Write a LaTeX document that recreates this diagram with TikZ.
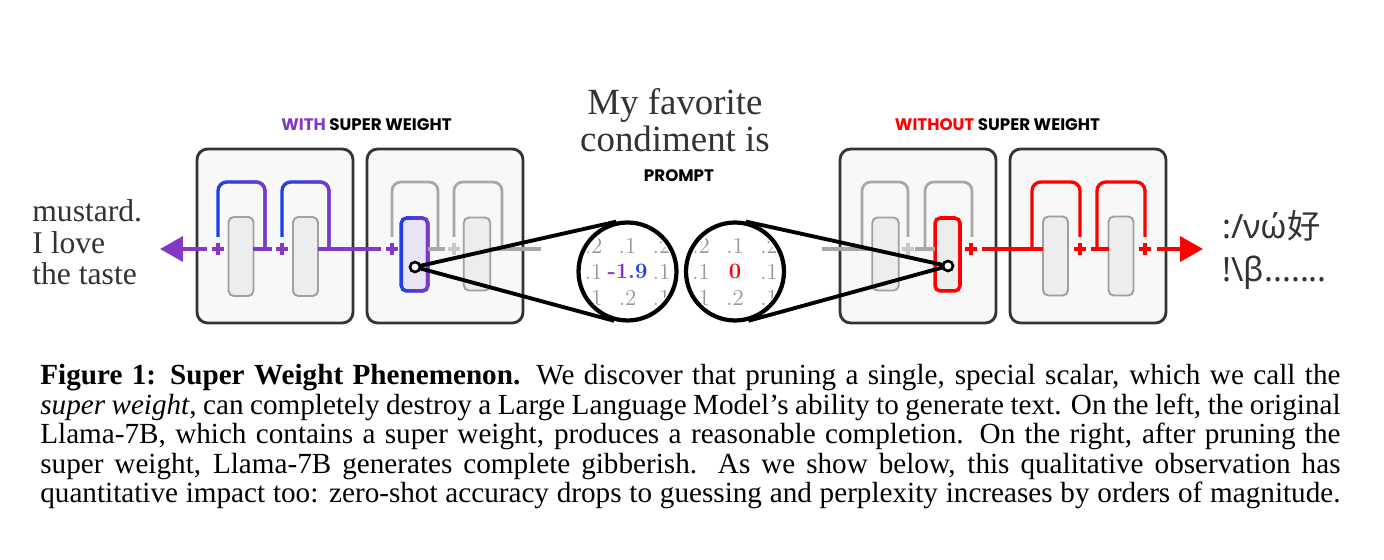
\documentclass[tikz,border=0pt]{standalone}
\usepackage{fontspec}
\usepackage{xcolor}
\usepackage{tikz}
\usetikzlibrary{arrows.meta, calc, fadings, positioning}

\newfontfamily\capfont{Liberation Serif}
\newfontfamily\tagfont{Poppins}
\newfontfamily\gibfont{Noto Sans}
\newfontfamily\cjkfont{Noto Sans CJK SC}

\definecolor{swpurple}{RGB}{131,56,200}
\definecolor{swblue}{RGB}{28,64,232}
\definecolor{swred}{RGB}{255,0,0}
\definecolor{panelfill}{RGB}{248,248,248}
\definecolor{paneldraw}{RGB}{51,51,51}
\definecolor{blockfill}{RGB}{237,237,237}
\definecolor{blockdraw}{RGB}{160,160,160}
\definecolor{wiregray}{RGB}{168,168,168}
\definecolor{faintgray}{RGB}{200,200,200}
\definecolor{inkgray}{RGB}{51,51,51}
\definecolor{numgray}{RGB}{150,150,150}
\definecolor{hlfill}{RGB}{232,228,246}

\tikzfading[name=fadeleft, left color=transparent!100, right color=transparent!0]

% skip loop: x left, x right, end y left, end y right, style
\newcommand{\skiploop}[5]{\draw[#5] (#1,#3) -- (#1,182) -- (#2,182) -- (#2,#4);}

\begin{document}
\begin{tikzpicture}[x=0.02cm, y=-0.02cm,
    panel/.style={draw=paneldraw, fill=panelfill, line width=1.6pt, rounded corners=6pt,
        minimum width=3.12cm, minimum height=3.48cm, inner sep=0pt},
    blk/.style={draw=blockdraw, fill=blockfill, line width=1.1pt, rounded corners=3pt,
        minimum width=0.5cm, minimum height=1.58cm, inner sep=0pt, outer sep=0pt},
    midblk/.style={blk, minimum width=0.53cm, minimum height=1.46cm},
    wire/.style={line width=2.4pt},
    skipwire/.style={line width=1.9pt, rounded corners=5pt},
    graywire/.style={line width=1.6pt, rounded corners=5pt, wiregray},
    lens/.style={circle, draw=black, fill=white, line width=2.4pt, minimum size=1.96cm, inner sep=0pt},
    lensdot/.style={circle, draw=black, fill=white, line width=1.5pt, minimum size=0.2cm, inner sep=0pt},
    zoomline/.style={line width=2.2pt, black},
    numtxt/.style={text=numgray, font=\fontsize{13}{13}\selectfont, inner sep=0pt},
    valtxt/.style={font=\bfseries\fontsize{12.5}{13}\selectfont, inner sep=0pt},
    tagtxt/.style={font=\tagfont\bfseries\fontsize{9.5}{10}\selectfont, inner sep=0pt},
    plusmark/.pic={\draw[line width=2.1pt] (-6,0) -- (6,0) (0,-6) -- (0,6);}
]
    \fill[white] (0,0) rectangle (1384,560);
    \useasboundingbox (0,0) rectangle (1384,560);

    % Panels
    \node[panel] (withA) at (275,236) {};
    \node[panel] (withB) at (445,236) {};
    \node[panel] (noB) at (918,236) {};
    \node[panel] (noA) at (1088,236) {};

    % Blocks
    \node[blk] (wa1) at (241,256.5) {};
    \node[blk] (wa2) at (305.5,256.5) {};
    \node[midblk] (wb2) at (477,254) {};
    \node[midblk] (nb1) at (885.5,254) {};
    \node[blk] (na1) at (1055.5,256) {};
    \node[blk] (na2) at (1121,256) {};
    \node[midblk, fill=hlfill, draw=swblue, line width=2pt] (hlA) at (414.5,254.5) {};
    \draw[swpurple, line width=2pt, rounded corners=3pt, path fading=fadeleft]
        (hlA.south west) rectangle (hlA.north east);
    \node[midblk, minimum width=0.5cm, draw=swred, line width=2pt] (hlB) at (947.5,254.5) {};

    % With super weight (flows to the left)
    \foreach \xl/\xr in {218/265, 282/329} {
        \skiploop{\xl}{\xr}{237}{249}{skipwire, swblue}
        \skiploop{\xl}{\xr}{237}{249}{skipwire, swpurple, path fading=fadeleft}
    }
    \draw[wire, swpurple, -{Triangle[length=13pt, width=14pt]}] (207,249) -- (160,249);
    \draw[wire, swpurple] (253,249) -- (272,249);
    \draw[wire, swpurple] (318,249) -- (381,249);
    \foreach \xp in {218, 282, 392}
        \pic[swpurple] at (\xp,249) {plusmark};
    \skiploop{392}{438}{237}{249}{graywire}
    \skiploop{454}{502}{237}{249}{graywire}
    \draw[wire, wiregray] (428,249) -- (445,249);
    \draw[wire, wiregray] (490,249) -- (541,249);
    \pic[faintgray] at (454,249) {plusmark};

    % Without super weight (flows to the right)
    \draw[wire, wiregray] (822,249) -- (872,249);
    \skiploop{862}{908}{249}{237}{graywire}
    \skiploop{925}{972}{249}{237}{graywire}
    \draw[wire, wiregray] (915,249) -- (935,249);
    \pic[faintgray] at (908,249) {plusmark};
    \foreach \xl/\xr in {1032/1080, 1097/1145}
        \skiploop{\xl}{\xr}{249}{237}{skipwire, swred}
    \draw[wire, swred] (982,249) -- (1043,249);
    \draw[wire, swred] (1091,249) -- (1109,249);
    \draw[wire, swred, -{Triangle[length=13pt, width=14pt]}] (1157,249) -- (1203,249);
    \foreach \xp in {971, 1080, 1145}
        \pic[swred] at (\xp,249) {plusmark};

    % Lenses
    \node[lens] (lensA) at (627.5,271.5) {};
    \node[lens] (lensB) at (735,271.5) {};
    \foreach \lz/\lv in {lensA/{\textcolor{swpurple}{-1}\textcolor{swpurple!50!swblue}{.}\textcolor{swblue}{9}},
                         lensB/{\textcolor{swred}{0}}} {
        \begin{scope}
            \clip (\lz.center) circle (0.9cm);
            \foreach \dx/\dy/\v [count=\i] in {-34/-26/.2, 0/-26/.1, 34/-26/.2, -34/0/.1,
                                               34/0/.1, -34/26/.1, 0/26/.2, 34/26/.1}
                \node[numtxt] (\lz-n\i) at ([shift={(\dx,\dy)}]\lz.center) {\v};
        \end{scope}
        \node[valtxt] (\lz-val) at (\lz.center) {\lv};
    }
    \coordinate (dotA) at (415,267);
    \coordinate (dotB) at (948,266);
    \draw[zoomline] (dotA) -- (tangent cs:node=lensA, point={(dotA)}, solution=1);
    \draw[zoomline] (dotA) -- (tangent cs:node=lensA, point={(dotA)}, solution=2);
    \draw[zoomline] (dotB) -- (tangent cs:node=lensB, point={(dotB)}, solution=1);
    \draw[zoomline] (dotB) -- (tangent cs:node=lensB, point={(dotB)}, solution=2);
    \node[lensdot] (dotAc) at (dotA) {};
    \node[lensdot] (dotBc) at (dotB) {};

    % Labels
    \node[tagtxt, anchor=base] (withlbl) at (366.5,131) {\textcolor{swpurple}{WITH} SUPER WEIGHT};
    \node[tagtxt, anchor=base] (nolbl) at (997.5,131) {\textcolor{swred}{WITHOUT} SUPER WEIGHT};
    \node[tagtxt, anchor=base] (promptlbl) at (679,182) {PROMPT};
    \node[anchor=base, align=center, inner sep=0pt, text=inkgray,
          font=\capfont\fontsize{21}{21.5}\selectfont] (prompt) at (675,152) {My favorite\\condiment is};
    \node[anchor=base west, align=left, inner sep=0pt, text=inkgray,
          font=\capfont\fontsize{18}{18}\selectfont] (goodout) at (32,285) {mustard.\\I love\\the taste};
    \node[anchor=base west, align=left, inner sep=0pt, text=inkgray,
          font=\gibfont\fontsize{19}{25}\selectfont] (badout) at (1222,282) {:/νώ{\cjkfont 好}\\!\textbackslash β.......};

    % Caption
    \node[anchor=north west, inner sep=0pt, text width=740pt, align=justify,
          font=\capfont\fontsize{16.6}{16.8}\selectfont] (caption) at (40,364) {%
        \textbf{Figure 1: Super Weight Phenemenon.} We discover that pruning a single, special scalar, which we call the\linebreak
        \textit{super weight}, can completely destroy a Large Language Model’s ability to generate text. On the left, the original\linebreak
        Llama-7B, which contains a super weight, produces a reasonable completion. On the right, after pruning the\linebreak
        super weight, Llama-7B generates complete gibberish. As we show below, this qualitative observation has\linebreak
        quantitative impact too: zero-shot accuracy drops to guessing and perplexity increases by orders of magnitude.\parfillskip=0pt\par};
\end{tikzpicture}
\end{document}
